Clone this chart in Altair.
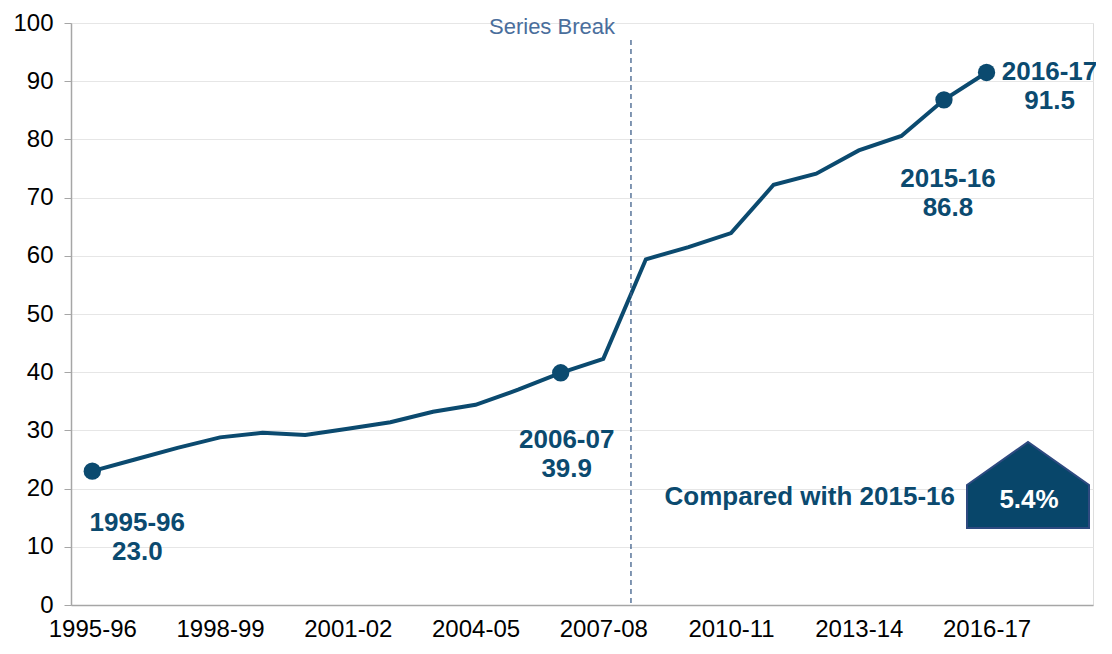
import altair as alt
import pandas as pd

years = ["1995-96", "1996-97", "1997-98", "1998-99", "1999-00", "2000-01",
         "2001-02", "2002-03", "2003-04", "2004-05", "2005-06", "2006-07",
         "2007-08", "2008-09", "2009-10", "2010-11", "2011-12", "2012-13",
         "2013-14", "2014-15", "2015-16", "2016-17"]
values = [23.0, 25.0, 27.0, 28.8, 29.6, 29.2, 30.3, 31.4, 33.2, 34.4, 37.0, 39.9,
          42.3, 59.4, 61.5, 63.9, 72.2, 74.1, 78.1, 80.6, 86.8, 91.5]
highlight = ["1995-96", "2006-07", "2015-16", "2016-17"]
tick_idx = [0, 3, 6, 9, 12, 15, 18, 21]
break_pos = 12.65
comparison_text = "Compared with  2015-16"
comparison_value = "5.4%"

BLUE = "#0B4A6F"
FONT = "Liberation Sans"

df = pd.DataFrame({"idx": list(range(len(years))), "year": years, "value": values})
df["label"] = df["year"] + "\n" + df["value"].map(lambda v: f"{v:.1f}")

label_arr = "[" + ",".join(f"'{y}'" for y in years) + "]"

x_enc = alt.X("idx:Q", scale=alt.Scale(domain=[-0.5, 23.5], nice=False, zero=False),
              axis=alt.Axis(values=tick_idx, labelExpr=f"{label_arr}[datum.value]",
                            title=None, grid=False, ticks=False, domainColor="#A6A6A6",
                            domainWidth=1.5, labelFont=FONT, labelFontSize=24,
                            labelColor="#000000", labelPadding=12))
y_enc = alt.Y("value:Q", scale=alt.Scale(domain=[0, 100], nice=False),
              axis=alt.Axis(values=list(range(0, 101, 10)), title=None, grid=True,
                            gridColor="#E6E6E6", gridWidth=1.2, domainColor="#A6A6A6",
                            domainWidth=1.5, tickColor="#A6A6A6", tickSize=7,
                            labelFont=FONT, labelFontSize=24, labelColor="#000000",
                            labelPadding=11))

base = alt.Chart(df)

line = base.mark_line(color=BLUE, strokeWidth=4).encode(x=x_enc, y=y_enc)
pts = base.transform_filter(
    alt.FieldOneOfPredicate(field="year", oneOf=highlight)
).mark_point(filled=True, color=BLUE, size=300, opacity=1).encode(x="idx:Q", y="value:Q")

offsets = {"1995-96": (45, 52), "2006-07": (6, 67), "2015-16": (4, 79), "2016-17": (63, 0)}
label_layers = []
for yr, (dx, dy) in offsets.items():
    label_layers.append(
        base.transform_filter(alt.datum.year == yr).mark_text(
            font=FONT, fontSize=26, fontWeight="bold", color=BLUE, align="center",
            baseline="middle", lineBreak="\n", lineHeight=29, dx=dx, dy=dy
        ).encode(x="idx:Q", y="value:Q", text="label:N")
    )

brk = pd.DataFrame({"pos": [break_pos]})
rule = alt.Chart(brk).mark_rule(color="#3E5F8A", strokeDash=[5, 4], strokeWidth=1.3).encode(
    x="pos:Q", y=alt.value(17), y2=alt.value(584))
brk_text = alt.Chart(brk).mark_text(
    font=FONT, fontSize=22, color="#4A6E9C", align="center", baseline="middle", dx=-79
).encode(x="pos:Q", y=alt.value(4), text=alt.value("Series Break"))

cmp_df = pd.DataFrame({"t": [comparison_text], "v": [comparison_value]})
cmp_text = alt.Chart(cmp_df).mark_text(
    font=FONT, fontSize=26, fontWeight="bold", color=BLUE, align="right", baseline="middle"
).encode(x=alt.value(884), y=alt.value(474), text="t:N")
house = alt.Chart(cmp_df).mark_point(
    shape="M-61,-14 L0,-57 L61,-14 L61,29 L-61,29 Z", filled=True, fill="#08466A",
    stroke="#2E4A80", strokeWidth=2, size=4, opacity=1
).encode(x=alt.value(957), y=alt.value(476))
house_text = alt.Chart(cmp_df).mark_text(
    font=FONT, fontSize=26, fontWeight="bold", color="#FFFFFF", align="center", baseline="middle"
).encode(x=alt.value(958), y=alt.value(477), text="v:N")

chart = alt.layer(line, pts, *label_layers, rule, brk_text, cmp_text, house, house_text).properties(
    width=1022, height=582,
    autosize=alt.AutoSizeParams(type="none"),
    padding={"left": 63, "top": 15, "right": 3, "bottom": 41},
).configure_view(stroke=None).configure(background="#FFFFFF")

chart.save("out.html", embed_options={"renderer": "svg", "actions": False})
